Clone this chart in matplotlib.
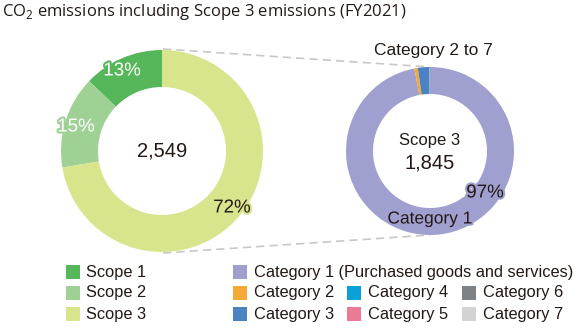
import numpy as np
import matplotlib
matplotlib.use("Agg")
import matplotlib.pyplot as plt
import matplotlib.patheffects as pe
from matplotlib.patches import Rectangle

# values (thousand t-CO2)
scope_labels = ["Scope 1", "Scope 2", "Scope 3"]
scope_values = [327, 377, 1845]
scope_colors = ["#55b65a", "#9fd195", "#d9e58c"]
scope_pct = ["13%", "15%", "72%"]
total_label = "2,549"

cat_labels = ["Category 1 (Purchased goods and services)", "Category 2", "Category 3",
              "Category 4", "Category 5", "Category 6", "Category 7"]
cat_values = [1790, 12, 40, 1.5, 0.7, 0.4, 0.4]
cat_colors = ["#a0a0d0", "#f5aa35", "#4a82c4", "#0aa0d8", "#ec7a96", "#7c8285", "#d3d3d3"]
scope3_label = "1,845"

plt.rcParams['font.family'] = ['Liberation Sans', 'DejaVu Sans']
plt.rcParams['mathtext.fontset'] = 'custom'
plt.rcParams['mathtext.rm'] = 'Open Sans'

W, H = 580, 328
fig = plt.figure(figsize=(W / 100, H / 100), dpi=100)
ax = fig.add_axes([0, 0, 1, 1])

def Y(y):
    # image pixel row -> axes y
    return H - y

lc, lr = (162, Y(151)), 101
rc, rr = (430, Y(151)), 84

# zoom lines
ax.plot([163, 430], [Y(49), Y(67)], color="#c8c8c8", lw=1.2, ls=(0, (5, 3)), zorder=0)
ax.plot([163, 430], [Y(253), Y(235)], color="#c8c8c8", lw=1.2, ls=(0, (5, 3)), zorder=0)

ax.pie(scope_values, colors=scope_colors, center=lc, radius=lr, startangle=90,
       counterclock=True, wedgeprops=dict(width=37, linewidth=0), frame=True)
ax.pie(cat_values, colors=cat_colors, center=rc, radius=rr, startangle=90,
       counterclock=False, wedgeprops=dict(width=27, linewidth=0), frame=True)
ax.set_xlim(0, W)
ax.set_ylim(0, H)
ax.set_aspect('equal')
ax.axis('off')

def halo(c):
    return [pe.withStroke(linewidth=3, foreground=c)]

ink = "#231815"
ax.text(122, Y(71), scope_pct[0], color="white", fontsize=13.5, ha="center", va="center",
        path_effects=halo(scope_colors[0]))
ax.text(76, Y(127), scope_pct[1], color="white", fontsize=13.5, ha="center", va="center",
        path_effects=halo(scope_colors[1]))
ax.text(232, Y(208), scope_pct[2], color=ink, fontsize=13.5, ha="center", va="center",
        path_effects=halo(scope_colors[2]))
ax.text(lc[0], lc[1], total_label, color=ink, fontsize=14.5, ha="center", va="center")

ax.text(rc[0], Y(141), "Scope 3", color=ink, fontsize=12, ha="center", va="center")
ax.text(rc[0], Y(163), scope3_label, color=ink, fontsize=14.5, ha="center", va="center")
ax.text(485, Y(193), "97%", color=ink, fontsize=13.5, ha="center", va="center",
        path_effects=halo(cat_colors[0]))
ax.text(430, Y(219), "Category 1", color=ink, fontsize=12.5, ha="center", va="center",
        path_effects=halo(cat_colors[0]))
ax.text(433, Y(51), "Category 2 to 7", color=ink, fontsize=12.5, ha="center", va="center")

ax.text(2, Y(12), "CO$_2$ emissions including Scope 3 emissions (FY2021)", color=ink,
        fontsize=12, family="Open Sans", ha="left", va="center")

# legend
rows = [Y(272), Y(293), Y(314)]
for i, (lab, col) in enumerate(zip(scope_labels, scope_colors)):
    ax.add_patch(Rectangle((66, rows[i] - 7), 14, 14, color=col, lw=0))
    ax.text(86, rows[i], lab, fontsize=11.8, color=ink, va="center")

cat_pos = [(233, 0), (233, 1), (233, 2), (347, 1), (347, 2), (462, 1), (462, 2)]
for (x, r), lab, col in zip(cat_pos, cat_labels, cat_colors):
    ax.add_patch(Rectangle((x, rows[r] - 7), 14, 14, color=col, lw=0))
    ax.text(x + 21, rows[r], lab, fontsize=11.8, color=ink, va="center")

fig.savefig("out.png", dpi=100, facecolor="white")
